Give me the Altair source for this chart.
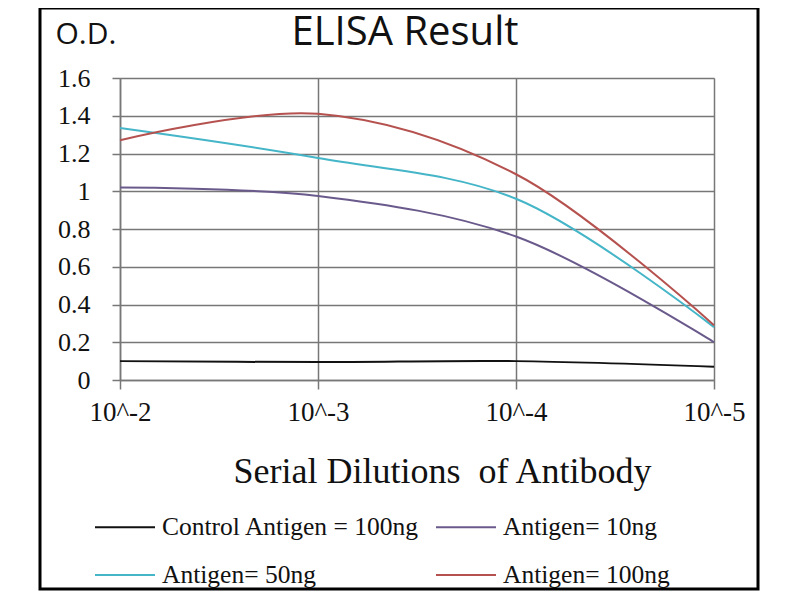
import altair as alt
import pandas as pd

dilutions = ["10^-2", "10^-3", "10^-4", "10^-5"]
series_names = ["Control Antigen = 100ng", "Antigen= 10ng", "Antigen= 50ng", "Antigen= 100ng"]
control = [0.10, 0.095, 0.10, 0.07]
ag10 = [1.02, 0.975, 0.76, 0.20]
ag50 = [1.335, 1.176, 0.96, 0.28]
ag100 = [1.27, 1.41, 1.09, 0.29]
colors = ["#111111", "#6a5a8c", "#45b5c8", "#b5524f"]
y_ticks = [0, 0.2, 0.4, 0.6, 0.8, 1.0, 1.2, 1.4, 1.6]
chart_title = "ELISA Result"

rows = []
for name, vals in zip(series_names, [control, ag10, ag50, ag100]):
    for i, (d, v) in enumerate(zip(dilutions, vals)):
        rows.append({"series": name, "dilution": d, "idx": i, "od": v})
df = pd.DataFrame(rows)

SERIF = "Liberation Serif"
SANS = "Open Sans"

lines = alt.Chart(df).mark_line(interpolate="catmull-rom", strokeWidth=2).encode(
    x=alt.X(
        "dilution:N",
        sort=dilutions,
        scale=alt.Scale(type="point", padding=0),
        axis=alt.Axis(
            title="Serial Dilutions\u00a0\u00a0of Antibody",
            titleFont=SERIF, titleFontSize=36, titleFontWeight="normal", titleColor="#111",
            titleX=322, titleY=91, titleAlign="center", titleBaseline="middle",
            labelFont=SERIF, labelFontSize=27, labelColor="#111", labelPadding=10,
            labelAngle=0,
            grid=True, gridColor="#777", gridWidth=1.5,
            domainColor="#777", domainWidth=1.5,
            tickColor="#777", tickWidth=1.5, tickSize=9,
        ),
    ),
    y=alt.Y(
        "od:Q",
        scale=alt.Scale(domain=[0, 1.6], nice=False),
        axis=alt.Axis(
            values=y_ticks,
            title="O.D.",
            titleFont=SANS, titleFontSize=30, titleFontWeight="normal", titleColor="#111",
            titleAngle=0, titleX=-65, titleY=-44, titleAlign="left", titleBaseline="middle",
            labelFont=SERIF, labelFontSize=26, labelColor="#111", labelPadding=22,
            labelExpr="format(datum.value, '.1~f')",
            grid=True, gridColor="#777", gridWidth=1.5,
            domainColor="#777", domainWidth=1.5,
            tickColor="#777", tickWidth=1.5, tickSize=8,
        ),
    ),
    color=alt.Color(
        "series:N",
        sort=series_names,
        scale=alt.Scale(domain=series_names, range=colors),
        title=None,
        legend=alt.Legend(
            orient="none", legendX=-26, legendY=418, columns=2, direction="horizontal",
            symbolType="stroke", symbolSize=3600, symbolStrokeWidth=2,
            labelFont=SERIF, labelFontSize=25.5, labelColor="#111", labelOffset=6,
            columnPadding=12, rowPadding=3, padding=0, labelLimit=400,
        ),
    ),
    order=alt.Order("idx:Q"),
)

one_row = pd.DataFrame({"a": [0]})
frame = alt.Chart(one_row).mark_rect(fill="transparent", stroke="#000", strokeWidth=3).encode(
    x=alt.value(-80), x2=alt.value(638), y=alt.value(-70), y2=alt.value(511)
)
title_text = alt.Chart(one_row).mark_text(
    font=SANS, fontSize=40, color="#111", align="center", baseline="middle"
).encode(x=alt.value(285), y=alt.value(-45), text=alt.value(chart_title))

chart = alt.layer(frame, title_text, lines).properties(
    width=594,
    height=302,
    padding={"left": 112, "top": 70, "right": 78, "bottom": 212},
    autosize=alt.AutoSizeParams(type="none"),
).configure_view(stroke=None).configure(background="white")

chart.save("out.html", embed_options={"renderer": "svg", "actions": False})
